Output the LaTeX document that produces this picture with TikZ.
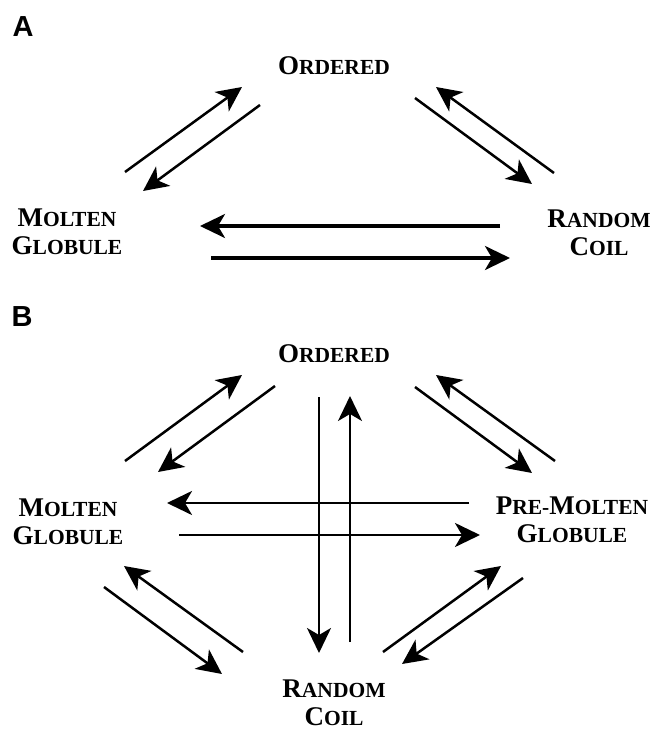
\documentclass[tikz,border=0pt]{standalone}
\usepackage{fontspec}
\setmainfont{Liberation Serif}
\newfontfamily\panelfont{Liberation Sans}
\usetikzlibrary{arrows.meta}
\newcommand\BigC[1]{{\fontsize{27pt}{28pt}\selectfont #1}}
\newcommand\SmC[1]{{\fontsize{21.5pt}{28pt}\selectfont #1}}
\tikzset{
  state/.style={font=\bfseries\fontsize{27pt}{28pt}\selectfont, align=center, inner sep=0pt},
  panel/.style={font=\panelfont\bfseries\fontsize{29pt}{29pt}\selectfont, inner sep=0pt},
  arr/.style={line width=2.5pt, -{Stealth[length=25pt,width=24pt,inset=7pt]}},
  thickarr/.style={arr, line width=3.4pt},
  midarr/.style={arr, line width=2.8pt},
  vertarr/.style={arr, line width=2.3pt}
}
\begin{document}
\begin{tikzpicture}[x=1pt,y=-1pt]
\useasboundingbox (0,0) rectangle (652,731);
% ---------- Panel A ----------
\node[panel] (labA) at (23,27) {A};
\node[state] (ordA) at (334,66) {\BigC{O}\SmC{RDERED}};
\node[state] (molA) at (67,232) {\BigC{M}\SmC{OLTEN}\\\BigC{G}\SmC{LOBULE}};
\node[state] (ranA) at (599,233) {\BigC{R}\SmC{ANDOM}\\\BigC{C}\SmC{OIL}};
\coordinate (a1s) at (125,172); \coordinate (a1e) at (242,87);
\coordinate (a2s) at (260,105); \coordinate (a2e) at (143,191);
\coordinate (a3s) at (415,98);  \coordinate (a3e) at (532,184);
\coordinate (a4s) at (554,173); \coordinate (a4e) at (436,87);
\coordinate (a5s) at (500,226); \coordinate (a5e) at (200,226);
\coordinate (a6s) at (211,258); \coordinate (a6e) at (510,258);
\draw[arr] (a1s) -- (a1e);
\draw[arr] (a2s) -- (a2e);
\draw[arr] (a3s) -- (a3e);
\draw[arr] (a4s) -- (a4e);
\draw[thickarr] (a5s) -- (a5e);
\draw[thickarr] (a6s) -- (a6e);
% ---------- Panel B ----------
\node[panel] (labB) at (22,317) {B};
\node[state] (ordB) at (334,354) {\BigC{O}\SmC{RDERED}};
\node[state] (molB) at (68,522) {\BigC{M}\SmC{OLTEN}\\\BigC{G}\SmC{LOBULE}};
\node[state] (preB) at (572,520) {\BigC{P}\SmC{RE-}\BigC{M}\SmC{OLTEN}\\\BigC{G}\SmC{LOBULE}};
\node[state] (ranB) at (334,703) {\BigC{R}\SmC{ANDOM}\\\BigC{C}\SmC{OIL}};
\coordinate (b1s) at (125,461); \coordinate (b1e) at (242,375);
\coordinate (b2s) at (275,386); \coordinate (b2e) at (158,472);
\coordinate (b3s) at (415,387); \coordinate (b3e) at (532,473);
\coordinate (b4s) at (555,461); \coordinate (b4e) at (436,375);
\coordinate (b5s) at (319,397); \coordinate (b5e) at (319,653);
\coordinate (b6s) at (350,642); \coordinate (b6e) at (350,396);
\coordinate (b7s) at (469,503); \coordinate (b7e) at (167,503);
\coordinate (b8s) at (179,535); \coordinate (b8e) at (480,535);
\coordinate (b9s) at (243,652); \coordinate (b9e) at (124,566);
\coordinate (b10s) at (104,587); \coordinate (b10e) at (222,674);
\coordinate (b11s) at (383,652); \coordinate (b11e) at (501,566);
\coordinate (b12s) at (523,578); \coordinate (b12e) at (402,664);
\draw[arr] (b1s) -- (b1e);
\draw[arr] (b2s) -- (b2e);
\draw[arr] (b3s) -- (b3e);
\draw[arr] (b4s) -- (b4e);
\draw[vertarr] (b5s) -- (b5e);
\draw[vertarr] (b6s) -- (b6e);
\draw[midarr] (b7s) -- (b7e);
\draw[midarr] (b8s) -- (b8e);
\draw[arr] (b9s) -- (b9e);
\draw[arr] (b10s) -- (b10e);
\draw[arr] (b11s) -- (b11e);
\draw[arr] (b12s) -- (b12e);
\end{tikzpicture}
\end{document}
